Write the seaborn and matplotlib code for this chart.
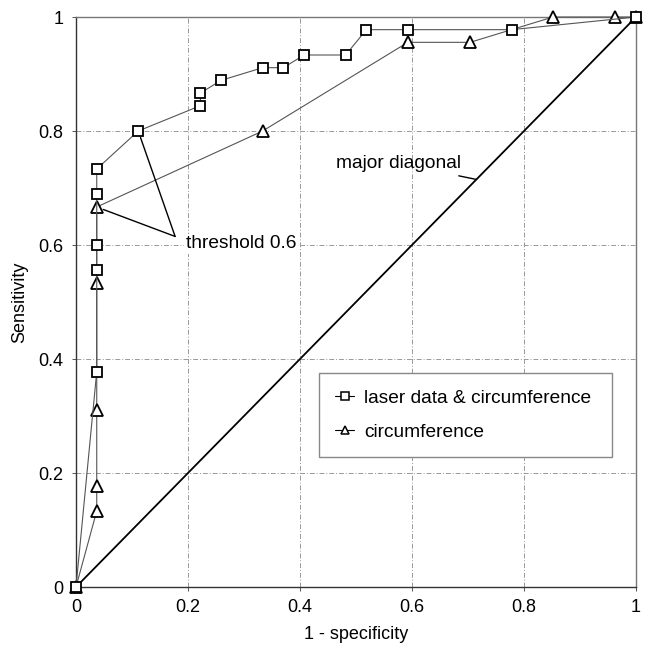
import numpy as np
import pandas as pd
import matplotlib
matplotlib.use("Agg")
import matplotlib.pyplot as plt
import seaborn as sns
from matplotlib.lines import Line2D

# ---- data ----
laser_x = [0, 1/27, 1/27, 1/27, 1/27, 1/27, 3/27, 6/27, 6/27, 7/27, 9/27, 10/27,
           11/27, 13/27, 14/27, 16/27, 21/27, 1.0]
laser_y = [0, 17/45, 25/45, 27/45, 31/45, 33/45, 36/45, 38/45, 39/45, 40/45, 41/45,
           41/45, 42/45, 42/45, 44/45, 44/45, 44/45, 1.0]

circ_x = [0, 1/27, 1/27, 1/27, 1/27, 1/27, 9/27, 16/27, 19/27, 23/27, 26/27, 1.0]
circ_y = [0, 6/45, 8/45, 14/45, 24/45, 30/45, 36/45, 43/45, 43/45, 1.0, 1.0, 1.0]

diag_x = [0, 1]
diag_y = [0, 1]

tick_vals = [0, 0.2, 0.4, 0.6, 0.8, 1]
tick_labels = ["0", "0.2", "0.4", "0.6", "0.8", "1"]

series_names = ["laser data & circumference", "circumference"]

sns.set_style("white")
plt.rcParams["font.family"] = ["Liberation Sans", "DejaVu Sans"]
plt.rcParams["text.color"] = "black"
plt.rcParams["axes.labelcolor"] = "black"

fig = plt.figure(figsize=(6.47, 6.49), dpi=100)
ax = fig.add_axes([76/647, 1 - 587/649, 560/647, 570/649])

grid_kw = dict(color="#999999", lw=0.7, ls=(0, (5, 2, 1, 2)), zorder=0)
for v in tick_vals[1:-1]:
    ax.axhline(v, **grid_kw)
    ax.axvline(v, **grid_kw)

# diagonal
sns.lineplot(x=diag_x, y=diag_y, ax=ax, color="black", lw=1.3, estimator=None,
             sort=False, zorder=2)

line_col = "#555555"
df_l = pd.DataFrame({"x": laser_x, "y": laser_y})
df_c = pd.DataFrame({"x": circ_x, "y": circ_y})
sns.lineplot(data=df_c, x="x", y="y", ax=ax, estimator=None, sort=False,
             color=line_col, lw=0.8, marker="^", markersize=8,
             markerfacecolor="white", markeredgecolor="black", markeredgewidth=1.3,
             zorder=3, clip_on=False)
sns.lineplot(data=df_l, x="x", y="y", ax=ax, estimator=None, sort=False,
             color=line_col, lw=0.8, marker="s", markersize=7.5,
             markerfacecolor="white", markeredgecolor="black", markeredgewidth=1.3,
             zorder=4, clip_on=False)

ax.set_xlim(0, 1)
ax.set_ylim(0, 1)
ax.set_xticks(tick_vals)
ax.set_xticklabels(tick_labels)
ax.set_yticks(tick_vals)
ax.set_yticklabels(tick_labels)
ax.tick_params(axis="both", labelsize=13, direction="out", length=3, width=0.7,
               color="#555555", labelcolor="black", left=True, bottom=True, pad=6)
ax.set_xlabel("1 - specificity", fontsize=13, labelpad=7)
ax.set_ylabel("Sensitivity", fontsize=13, labelpad=7)

for s in ["left", "bottom"]:
    ax.spines[s].set_color("#333333")
    ax.spines[s].set_linewidth(1.0)
for s in ["top", "right"]:
    ax.spines[s].set_color("#777777")
    ax.spines[s].set_linewidth(1.0)

# annotations
ax.annotate("", xy=(3/27, 36/45), xytext=(0.177, 0.615),
            arrowprops=dict(arrowstyle="-", color="black", lw=1.0, shrinkA=0, shrinkB=5))
ax.annotate("", xy=(1/27, 30/45), xytext=(0.177, 0.615),
            arrowprops=dict(arrowstyle="-", color="black", lw=1.0, shrinkA=0, shrinkB=5))
ax.text(0.196, 0.602, "threshold 0.6", fontsize=13.8, ha="left", va="center",
        bbox=dict(facecolor="white", edgecolor="none", pad=1))
ax.annotate("major diagonal", xy=(0.715, 0.715), xytext=(0.688, 0.743),
            fontsize=13.8, ha="right", va="center",
            arrowprops=dict(arrowstyle="-", color="black", lw=1.0, shrinkA=2, shrinkB=0))

# legend
handles = [
    Line2D([], [], color="black", lw=0.8, marker="s", markersize=6,
           markerfacecolor="white", markeredgecolor="black", markeredgewidth=1.1),
    Line2D([], [], color="black", lw=0.8, marker="^", markersize=6,
           markerfacecolor="white", markeredgecolor="black", markeredgewidth=1.1),
]
leg = ax.legend(handles, series_names, loc="upper left",
                bbox_to_anchor=(0.434, 0.375, 0.523, 0.0), mode="expand",
                fontsize=13.8, frameon=True, fancybox=False, framealpha=1,
                edgecolor="#888888", handlelength=1.0, handletextpad=0.5,
                labelspacing=0.85, borderpad=0.85, borderaxespad=0)
leg.get_frame().set_linewidth(1.0)

fig.savefig("out.png", dpi=100)
